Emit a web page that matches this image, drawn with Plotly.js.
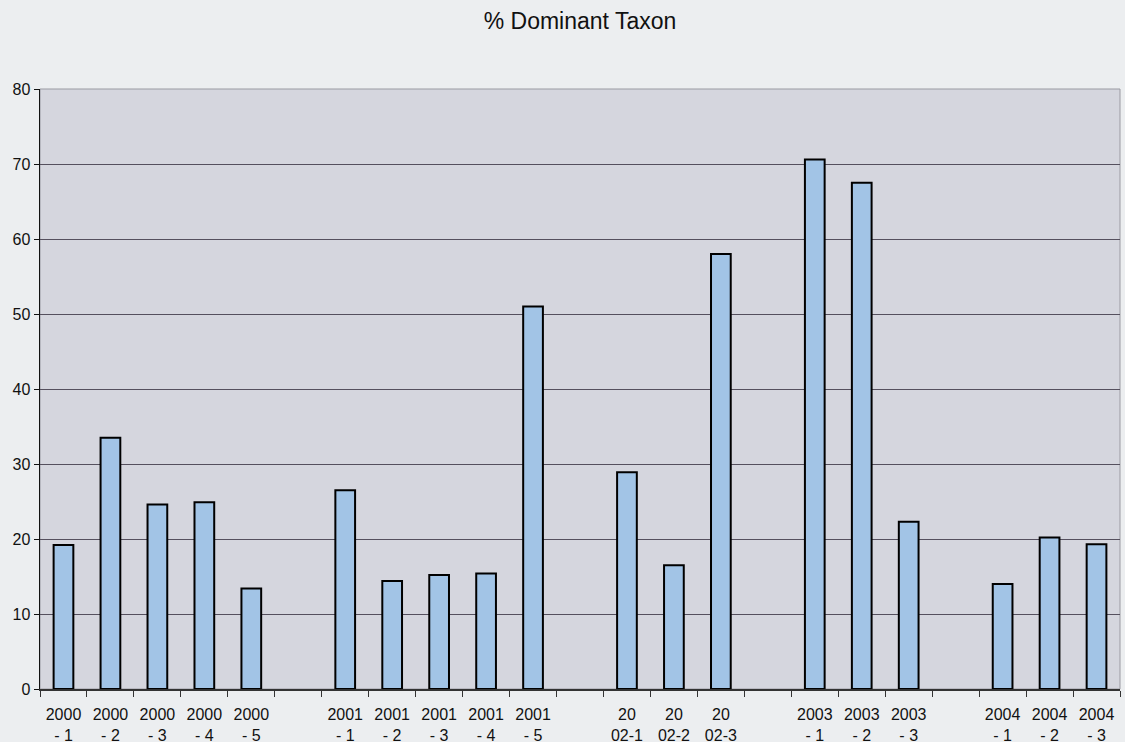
<!DOCTYPE html>
<html>
<head>
<meta charset="utf-8">
<script src="https://cdn.plot.ly/plotly-3.0.1.min.js"></script>
<style>
html,body{margin:0;padding:0;background:#eceef0;}
#chart{width:1125px;height:742px;}
</style>
</head>
<body>
<div id="chart"></div>
<script>
// Samples (x categories) and their values (% of dominant taxon)
const samples = ["2000-1","2000-2","2000-3","2000-4","2000-5",
                 "2001-1","2001-2","2001-3","2001-4","2001-5",
                 "2002-1","2002-2","2002-3",
                 "2003-1","2003-2","2003-3",
                 "2004-1","2004-2","2004-3"];
const values = [19.2, 33.5, 24.6, 24.9, 13.4,
                26.5, 14.4, 15.2, 15.4, 51.0,
                28.9, 16.5, 58.0,
                70.6, 67.5, 22.3,
                14.0, 20.2, 19.3];
// Axis order, with empty slots between years
const categoryOrder = ["2000-1","2000-2","2000-3","2000-4","2000-5","gap1",
                       "2001-1","2001-2","2001-3","2001-4","2001-5","gap2",
                       "2002-1","2002-2","2002-3","gap3",
                       "2003-1","2003-2","2003-3","gap4",
                       "2004-1","2004-2","2004-3"];
const tickLabels = ["2000<br>- 1","2000<br>- 2","2000<br>- 3","2000<br>- 4","2000<br>- 5","",
                    "2001<br>- 1","2001<br>- 2","2001<br>- 3","2001<br>- 4","2001<br>- 5","",
                    "20<br>02-1","20<br>02-2","20<br>02-3","",
                    "2003<br>- 1","2003<br>- 2","2003<br>- 3","",
                    "2004<br>- 1","2004<br>- 2","2004<br>- 3"];
const yTicks = [0,10,20,30,40,50,60,70,80];

const trace = {
  type: "bar",
  x: samples,
  y: values,
  marker: {color: "#a2c4e6", line: {color: "#000000", width: 2}},
  hoverinfo: "x+y"
};

const layout = {
  width: 1125, height: 742,
  paper_bgcolor: "#eceef0",
  plot_bgcolor: "#d5d6de",
  margin: {l: 40, r: 5, t: 89, b: 53},
  showlegend: false,
  bargap: 0.58,
  font: {family: "Arial, Liberation Sans, sans-serif", color: "#111111"},
  title: {text: "% Dominant Taxon", font: {size: 23, color: "#111111"},
          x: 0.5, xref: "paper", y: 1 - 21/742, yref: "container", yanchor: "middle"},
  xaxis: {
    type: "category",
    categoryorder: "array",
    categoryarray: categoryOrder,
    tickvals: categoryOrder,
    ticktext: tickLabels,
    tickson: "boundaries",
    ticks: "outside", ticklen: 6, tickcolor: "#333333", tickwidth: 1,
    showline: true, linecolor: "#333333", linewidth: 1.5,
    showgrid: false,
    tickangle: 0,
    ticklabelstandoff: 10,
    automargin: false,
    tickfont: {size: 16, color: "#111111"},
    range: [-0.5, 22.5],
    fixedrange: true
  },
  yaxis: {
    range: [0, 80],
    tickvals: yTicks,
    ticks: "outside", ticklen: 5, tickcolor: "#111111",
    showline: true, linecolor: "#111111", linewidth: 1.5,
    showgrid: true, gridcolor: "#55505e", gridwidth: 1,
    zeroline: false,
    tickfont: {size: 16, color: "#111111"},
    fixedrange: true
  },
  shapes: [{
    type: "rect", xref: "paper", yref: "paper", x0: 0, x1: 1, y0: 0, y1: 1,
    line: {color: "#9a9aa2", width: 1}, layer: "below"
  }]
};

Plotly.newPlot("chart", [trace], layout, {displayModeBar: false, staticPlot: true});
</script>
</body>
</html>
